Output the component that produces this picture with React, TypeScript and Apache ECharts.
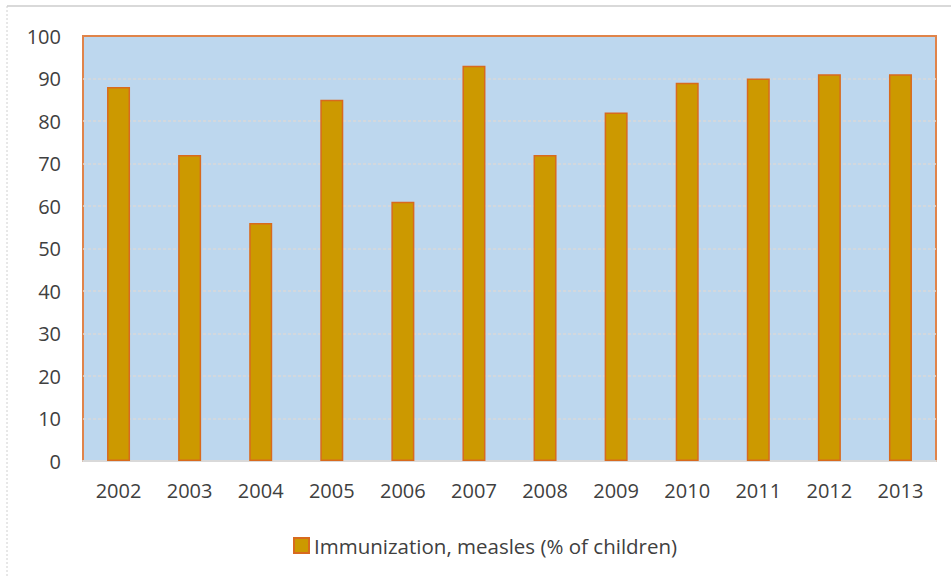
import React, { useEffect, useRef } from "react";
import * as echarts from "echarts";

const years = ["2002", "2003", "2004", "2005", "2006", "2007", "2008", "2009", "2010", "2011", "2012", "2013"];
const measles = [88, 72, 56, 85, 61, 93, 72, 82, 89, 90, 91, 91];
const seriesName = "Immunization, measles (% of children)";

export default function App() {
  const ref = useRef<HTMLDivElement>(null);
  useEffect(() => {
    document.body.style.margin = "0";
    const chart = echarts.init(ref.current!, null, { renderer: "svg" });
    const font = "'Open Sans', 'Noto Sans', sans-serif";
    chart.setOption({
      animation: false,
      backgroundColor: "#ffffff",
      textStyle: { fontFamily: font },
      graphic: [
        { type: "line", shape: { x1: 7, y1: 6, x2: 951, y2: 6 }, style: { stroke: "#d9d9d9", lineWidth: 2 } },
        { type: "line", shape: { x1: 7, y1: 6, x2: 7, y2: 576 }, style: { stroke: "#d0d0d0", lineWidth: 1, lineDash: [2, 2] } },
      ],
      grid: {
        left: 83,
        right: 15,
        top: 36,
        bottom: 115,
        show: true,
        backgroundColor: "#BDD7EE",
        borderColor: "#E0844A",
        borderWidth: 2,
        containLabel: false,
      },
      legend: {
        data: [seriesName],
        left: 293,
        top: 535,
        padding: 0,
        itemWidth: 15,
        itemHeight: 15,
        icon: "rect",
        textStyle: { fontSize: 20.5, color: "#404040", fontFamily: font },
      },
      xAxis: {
        type: "category",
        data: years,
        axisLine: { show: true, lineStyle: { color: "#d9d9d9", width: 2 } },
        axisTick: { show: false },
        axisLabel: { fontSize: 20, color: "#404040", margin: 19 },
        splitLine: { show: false },
      },
      yAxis: {
        type: "value",
        min: 0,
        max: 100,
        interval: 10,
        axisLine: { show: false },
        axisTick: { show: false },
        axisLabel: { fontSize: 20, color: "#404040", margin: 22 },
        splitLine: {
          show: true,
          showMinLine: false,
          showMaxLine: false,
          lineStyle: { color: "#d9d9d9", type: [3, 2], width: 1.5 },
        },
      },
      series: [
        {
          name: seriesName,
          type: "bar",
          data: measles,
          barWidth: 23,
          itemStyle: { color: "#CC9900", borderColor: "#D86A1E", borderWidth: 1.5 },
        },
      ],
    });
    return () => chart.dispose();
  }, []);
  return <div ref={ref} style={{ width: 951, height: 576 }} />;
}
